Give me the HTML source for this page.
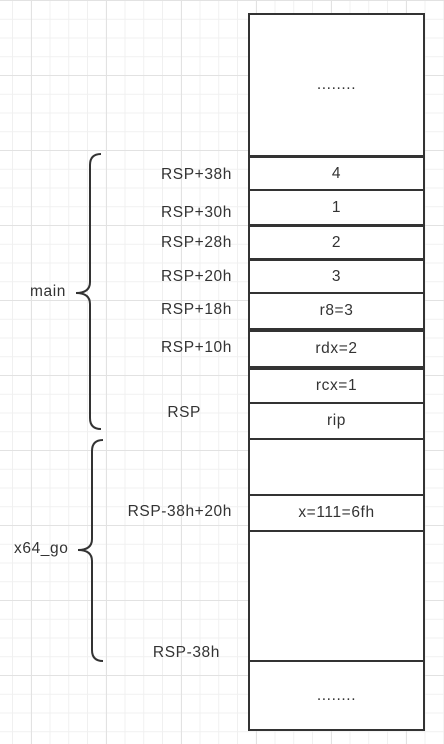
<!DOCTYPE html>
<html><head><style>
body{margin:0;width:444px;height:744px;overflow:hidden;background:#fff;
background-image:
linear-gradient(#e2e2e2 1px,transparent 1px),
linear-gradient(90deg,#e2e2e2 1px,transparent 1px),
linear-gradient(#f0f0f0 1px,transparent 1px),
linear-gradient(90deg,#f0f0f0 1px,transparent 1px);
background-size:75px 75px,75px 75px,18.75px 18.75px,18.75px 18.75px;
background-position:0 0,31px 0,0 0,12px 0;
font-family:"Liberation Sans","Noto Sans CJK SC",sans-serif;color:#333;font-size:15.5px;letter-spacing:0.6px;position:relative}
.b{position:absolute;left:248px;width:173px;border:2px solid #333;background:#fff;display:flex;align-items:center;justify-content:center;box-sizing:content-box}
.l{position:absolute;right:212px;white-space:nowrap}
</style></head><body>
<div class="b" style="top:13px;height:140px">........</div>
<div class="b" style="top:156px;height:31px">4</div>
<div class="b" style="top:189px;height:33px;align-items:flex-start;padding-top:0"><span style="margin-top:8px">1</span></div>
<div class="b" style="top:225px;height:31px">2</div>
<div class="b" style="top:259px;height:31px">3</div>
<div class="b" style="top:292px;height:34px">r8=3</div>
<div class="b" style="top:330px;height:34px">rdx=2</div>
<div class="b" style="top:368px;height:32px">rcx=1</div>
<div class="b" style="top:402px;height:34px">rip</div>
<div class="b" style="top:438px;height:54px"></div>
<div class="b" style="top:494px;height:34px">x=111=6fh</div>
<div class="b" style="top:530px;height:129px"></div>
<div class="b" style="top:660px;height:67px">........</div>
<div class="l" style="top:166px">RSP+38h</div>
<div class="l" style="top:204px">RSP+30h</div>
<div class="l" style="top:234px">RSP+28h</div>
<div class="l" style="top:268px">RSP+20h</div>
<div class="l" style="top:301px">RSP+18h</div>
<div class="l" style="top:339px">RSP+10h</div>
<div class="l" style="top:404px;right:243px">RSP</div>
<div class="l" style="top:503px">RSP-38h+20h</div>
<div class="l" style="top:644px;right:224px">RSP-38h</div>
<div style="position:absolute;left:30px;top:283px">main</div>
<div style="position:absolute;left:14px;top:540px">x64_go</div>
<svg width="444" height="744" style="position:absolute;left:0;top:0" fill="none" stroke="#333" stroke-width="2">
<path d="M101 154 Q90 154 90 165 L90 282 Q90 293 76 293 Q90 293 90 304 L90 418 Q90 429 101 429"/>
<path d="M103 440 Q92 440 92 451 L92 539 Q92 550 78 550 Q92 550 92 561 L92 650 Q92 661 103 661"/>
</svg>
</body></html>
